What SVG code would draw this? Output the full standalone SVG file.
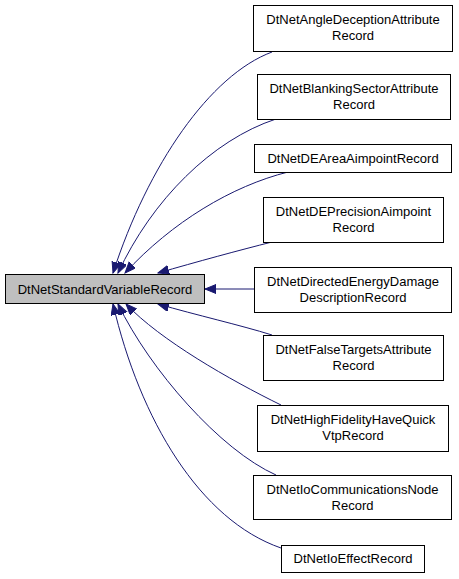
<svg xmlns="http://www.w3.org/2000/svg" width="459" height="579" viewBox="0 0 459 579">
<style>
.n rect{fill:#ffffff;stroke:#000000;stroke-width:1}
.n.main rect{fill:#bfbfbf}
.n text{font-family:"Liberation Sans",Arial,sans-serif;font-size:13px;fill:#000000;text-anchor:middle}
.e path{fill:none;stroke:#191970;stroke-width:1}
</style>
<defs>
<marker id="ah" markerWidth="12" markerHeight="10" refX="11" refY="4.5" orient="auto" markerUnits="userSpaceOnUse">
<path d="M0,0 L11,4.5 L0,9 Z" fill="#191970" stroke="#191970" stroke-width="1"/>
</marker>
</defs>
<g id="edges" class="e">
<path d="M272,52 C210,75 148,165 113,273" marker-end="url(#ah)"/>
<path d="M276,119 C212,140 152,200 118,273" marker-end="url(#ah)"/>
<path d="M288,172 C232,186 172,222 125,273" marker-end="url(#ah)"/>
<path d="M272,242 C240,250 196,262 158,273" marker-end="url(#ah)"/>
<path d="M254,289 L205,289" marker-end="url(#ah)"/>
<path d="M272,335 C240,325 196,315 158,304" marker-end="url(#ah)"/>
<path d="M281,405 C230,380 160,340 126,304" marker-end="url(#ah)"/>
<path d="M276,475 C220,450 150,370 118,304" marker-end="url(#ah)"/>
<path d="M281,548 C200,520 140,420 113,304" marker-end="url(#ah)"/>
</g>
<g id="DtNetStandardVariableRecord" class="n main">
<rect x="5.5" y="274.5" width="199" height="29"/>
<text x="105" y="294">DtNetStandardVariableRecord</text>
</g>
<g id="DtNetAngleDeceptionAttributeRecord" class="n">
<rect x="253.5" y="5.5" width="199" height="46"/>
<text x="353" y="24">DtNetAngleDeceptionAttribute</text>
<text x="353" y="40">Record</text>
</g>
<g id="DtNetBlankingSectorAttributeRecord" class="n">
<rect x="257.5" y="74.5" width="193" height="45"/>
<text x="354" y="93">DtNetBlankingSectorAttribute</text>
<text x="354" y="109">Record</text>
</g>
<g id="DtNetDEAreaAimpointRecord" class="n">
<rect x="254.5" y="144.5" width="197" height="28"/>
<text x="353" y="163">DtNetDEAreaAimpointRecord</text>
</g>
<g id="DtNetDEPrecisionAimpointRecord" class="n">
<rect x="263.5" y="197.5" width="180" height="45"/>
<text x="353.5" y="216">DtNetDEPrecisionAimpoint</text>
<text x="353.5" y="232">Record</text>
</g>
<g id="DtNetDirectedEnergyDamageDescriptionRecord" class="n">
<rect x="254.5" y="267.5" width="197" height="45"/>
<text x="353" y="286">DtNetDirectedEnergyDamage</text>
<text x="353" y="302">DescriptionRecord</text>
</g>
<g id="DtNetFalseTargetsAttributeRecord" class="n">
<rect x="263.5" y="335.5" width="180" height="45"/>
<text x="353.5" y="354">DtNetFalseTargetsAttribute</text>
<text x="353.5" y="370">Record</text>
</g>
<g id="DtNetHighFidelityHaveQuickVtpRecord" class="n">
<rect x="257.5" y="405.5" width="191" height="46"/>
<text x="353" y="424">DtNetHighFidelityHaveQuick</text>
<text x="353" y="440">VtpRecord</text>
</g>
<g id="DtNetIoCommunicationsNodeRecord" class="n">
<rect x="253.5" y="475.5" width="198" height="44"/>
<text x="352.5" y="494">DtNetIoCommunicationsNode</text>
<text x="352.5" y="510">Record</text>
</g>
<g id="DtNetIoEffectRecord" class="n">
<rect x="281.5" y="545.5" width="143" height="27"/>
<text x="353" y="563">DtNetIoEffectRecord</text>
</g>
</svg>
